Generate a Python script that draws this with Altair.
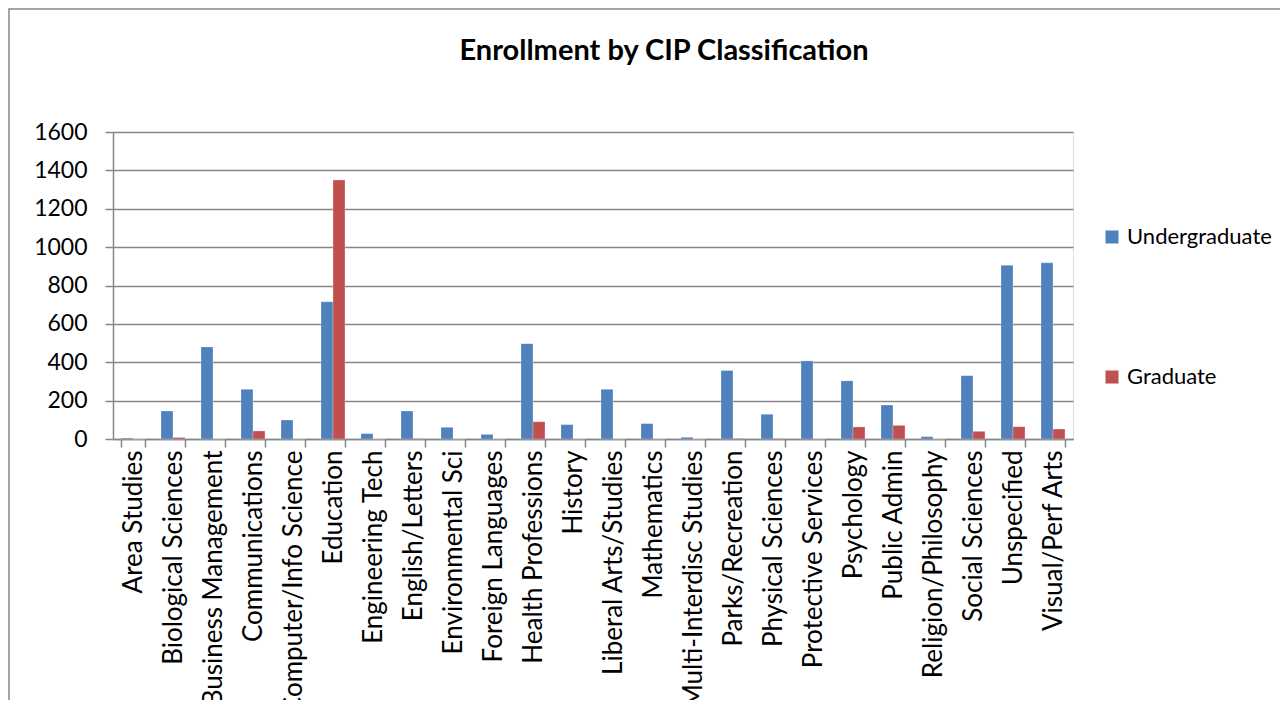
import altair as alt
import pandas as pd

categories = ["Area Studies", "Biological Sciences", "Business Management", "Communications",
              "Computer/Info Science", "Education", "Engineering Tech", "English/Letters",
              "Environmental Sci", "Foreign Languages", "Health Professions", "History",
              "Liberal Arts/Studies", "Mathematics", "Multi-Interdisc Studies", "Parks/Recreation",
              "Physical Sciences", "Protective Services", "Psychology", "Public Admin",
              "Religion/Philosophy", "Social Sciences", "Unspecified", "Visual/Perf Arts"]
undergraduate = [5, 146, 480, 259, 99, 715, 28, 146, 61, 24, 497, 75, 259, 80, 9, 357,
                 129, 407, 303, 177, 12, 330, 905, 918]
graduate = [0, 8, 0, 42, 0, 1350, 0, 2, 0, 0, 90, 0, 0, 0, 0, 3, 2, 0, 63, 71, 0, 40, 64, 52]
series = ["Undergraduate", "Graduate"]
colors = ["#4F81BD", "#C0504D"]

rows = []
for c, u, g in zip(categories, undergraduate, graduate):
    rows.append({"cat": c, "series": series[0], "value": u})
    rows.append({"cat": c, "series": series[1], "value": g})
df = pd.DataFrame(rows)

FONT = "Lato"

bars = alt.Chart(df).mark_bar(stroke="#ffffff", strokeWidth=0.5, strokeOpacity=0.5).encode(
    x=alt.X("cat:N", sort=categories, title=None,
            scale=alt.Scale(paddingInner=0.4, paddingOuter=0.2),
            axis=alt.Axis(labelAngle=-90, labelAlign="right", labelBaseline="middle",
                          labelFontSize=26, labelFont=FONT, labelColor="#000000",
                          labelPadding=3, tickBand="extent", ticks=True, tickSize=8,
                          tickColor="#868686", tickWidth=1.5, domainColor="#868686",
                          domainWidth=1.5, grid=False, labelLimit=400)),
    xOffset=alt.XOffset("series:N", sort=series),
    y=alt.Y("value:Q", title=None,
            scale=alt.Scale(domain=[0, 1600], nice=False),
            axis=alt.Axis(values=list(range(0, 1601, 200)), format="d", labelFontSize=23,
                          labelFont=FONT, labelColor="#000000", labelPadding=18, tickSize=8,
                          tickColor="#868686", tickWidth=1.5, domainColor="#868686",
                          domainWidth=1.5, grid=True, gridColor="#868686", gridWidth=1.5)),
    color=alt.Color("series:N", sort=series,
                    scale=alt.Scale(domain=series, range=colors),
                    legend=alt.Legend(title=None, orient="none", legendX=988, legendY=94,
                                      symbolType="square", symbolSize=170, symbolStrokeWidth=0,
                                      labelFontSize=22, labelFont=FONT, labelColor="#000000",
                                      rowPadding=118, labelOffset=4)),
)

frame = alt.Chart(pd.DataFrame({"a": [0]})).mark_rect(
    fill=None, stroke="#868686", strokeWidth=1.5
).encode(x=alt.value(-104), x2=alt.value(1300), y=alt.value(-123), y2=alt.value(700))

chart = alt.layer(frame, bars).properties(
    width=960, height=307,
    title=alt.TitleParams("Enrollment by CIP Classification", fontSize=29, font=FONT,
                          fontWeight="bold", color="#000000", anchor="middle", dx=71,
                          offset=-58),
    padding={"left": 105, "top": 124, "right": 207, "bottom": 261},
    autosize=alt.AutoSizeParams(type="none"),
).configure_view(stroke=None).configure(background="#ffffff")

chart.save("out.html", embed_options={"renderer": "svg", "actions": False})
